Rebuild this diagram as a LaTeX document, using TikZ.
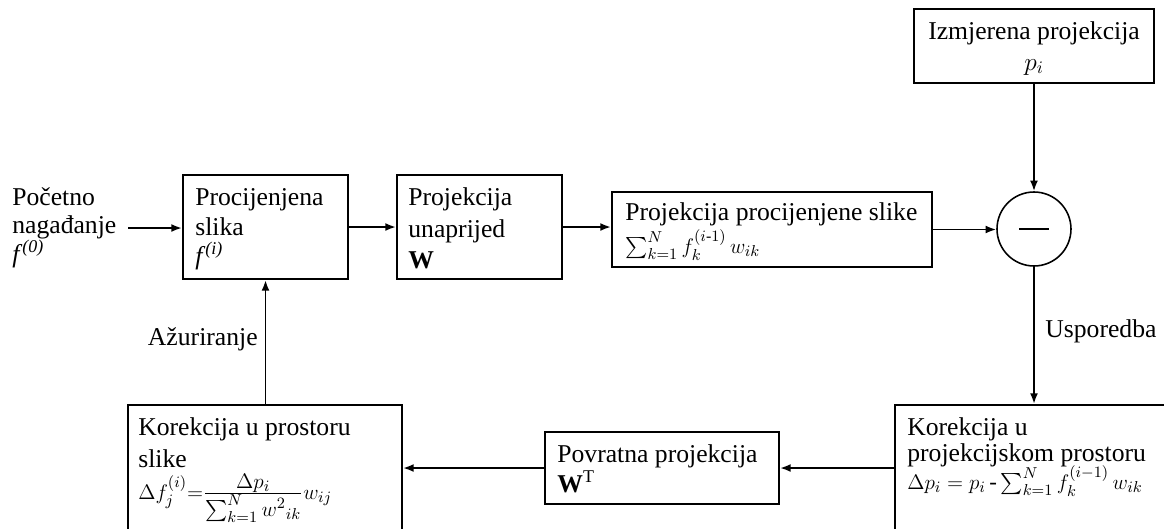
\documentclass[tikz,border=0pt]{standalone}
\usepackage{amsmath}
\usepackage{fontspec}
\setmainfont{Liberation Serif}
\usetikzlibrary{arrows.meta,fit,calc}
\newcommand{\mfs}{\fontsize{13}{15}\selectfont}
\begin{document}
\begin{tikzpicture}[x=0.02cm,y=-0.02cm,
  box/.style={draw,line width=1.2pt,inner sep=0pt,rectangle},
  txt/.style={anchor=base west,inner sep=0pt,font=\fontsize{14.6}{17}\selectfont},
  arr/.style={-{Latex[length=6pt,width=4.5pt]},line width=1.1pt}]
\clip (0,0) rectangle (1164,528);
% boxes
\node[box,fit={(183,175) (348,279)}] (ps) {};
\node[box,fit={(397,175) (562,279)}] (pu) {};
\node[box,fit={(612,192) (932,267)}] (pp) {};
\node[box,fit={(914,9) (1154,83)}] (mp) {};
\node[circle,draw,line width=0.9pt,minimum size=1.48cm,inner sep=0pt] (sub) at (1034,229) {};
\draw[line width=1.7pt] ($(sub.center)+(-15,0)$) -- ($(sub.center)+(15,0)$);
\node[box,fit={(128,405) (402,560)}] (ks) {};
\node[box,fit={(545,432) (779,504)}] (pv) {};
\node[box,fit={(895,405) (1190,560)}] (kp) {};
% texts
\node[txt] (t0a) at (12,205) {Početno};
\node[txt] (t0b) at (12,233) {nagađanje};
\node[txt] (t0c) at (12,262) {\textit{f}\textsuperscript{\textit{(0)}}};
\coordinate (in) at (128,228);

\node[txt] (ps1) at (195,205) {Procijenjena};
\node[txt] (ps2) at (195,235) {slika};
\node[txt] (ps3) at (195,264) {\textit{f}\textsuperscript{\textit{(i)}}};

\node[txt] (pu1) at (408,205) {Projekcija};
\node[txt] (pu2) at (408,237) {unaprijed};
\node[txt] (pu3) at (408,268) {\textbf{W}};

\node[txt] (pp1) at (625,220) {Projekcija procijenjene slike};
\node[txt] (pp2) at (625,253) {\mfs$\sum_{k=1}^{N} f_k^{(i\text{-}1)}\, w_{ik}$};

\node[txt,anchor=base] (mp1) at (1034,39) {Izmjerena projekcija};
\node[txt,anchor=base] (mp2) at (1034,70) {$p_i$};

\node[txt] (ks1) at (138,435) {Korekcija u prostoru};
\node[txt] (ks2) at (138,467) {slike};
\node[txt] (ks3) at (138,499) {\mfs$\Delta f_j^{(i)}{=}{\textstyle\frac{\textstyle\Delta p_i}{\textstyle\sum_{k=1}^{N} {w^{2}}_{ik}}} w_{ij}$};

\node[txt] (pv1) at (557,462) {Povratna projekcija};
\node[txt] (pv2) at (557,492) {\textbf{W}\textsuperscript{T}};

\node[txt] (kp1) at (907,435) {Korekcija u};
\node[txt] (kp2) at (907,461) {projekcijskom prostoru};
\node[txt] (kp3) at (907,489) {\mfs$\Delta p_i = p_i\,\text{-}\sum_{k=1}^{N} f_k^{(i-1)}\, w_{ik}$};

\node[txt,anchor=base east] (lu) at (258,345) {Ažuriranje};
\node[txt] (lc) at (1045,337) {Usporedba};
% connectors
\draw[arr] (in) -- (in -| ps.west);
\draw[arr] (ps.east) -- (pu.west);
\draw[arr] (pu.east) -- (pu.east -| pp.west);
\draw[arr] (pp.east) -- (pp.east -| sub.west);
\draw[arr] (mp.south -| sub.north) -- (sub.north);
\draw[arr] (sub.south) -- (sub.south |- kp.north);
\draw[arr] (kp.west |- pv.east) -- (pv.east);
\draw[arr] (pv.west) -- (pv.west -| ks.east);
\draw[arr] (ps.south |- ks.north) -- (ps.south);
\end{tikzpicture}
\end{document}
